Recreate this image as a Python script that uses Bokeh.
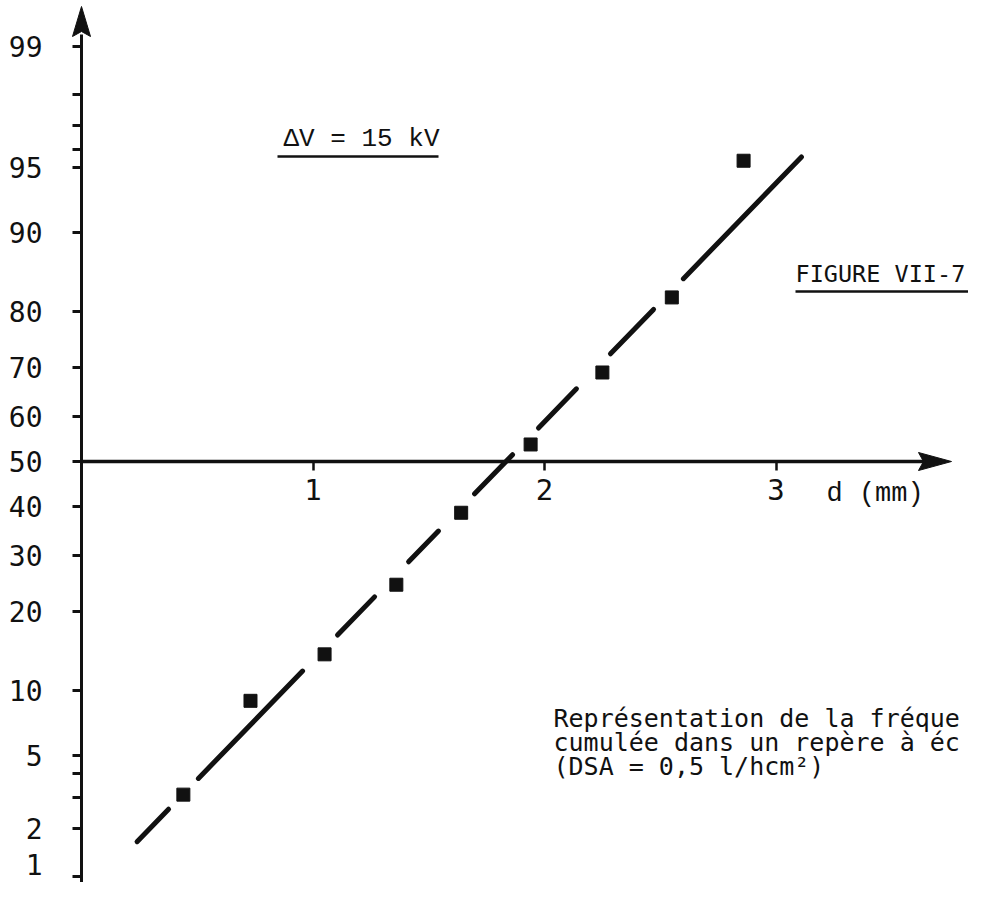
from statistics import NormalDist
from bokeh.plotting import figure
from bokeh.models import Range1d, LinearAxis, FixedTicker, CustomJSTickFormatter, Label
from bokeh.embed import file_html
from bokeh.resources import INLINE

# ---------------- data ----------------
d_mm = [0.44, 0.73, 1.05, 1.36, 1.64, 1.94, 2.25, 2.55, 2.86]          # d (mm)
freq_pct = [3.1, 9.0, 14.0, 24.5, 38.7, 53.8, 69.1, 82.1, 95.4]       # cumulated frequency (%)
fit_d = [0.24, 3.11]                                                  # fitted line ends (mm)
fit_pct = [1.66, 95.6]                                                # fitted line ends (%)
seg_start_d = [0.24, 0.505, 1.106, 1.413, 1.698, 1.974, 2.285, 2.600] # visible pieces of the line
seg_end_d = [0.376, 0.955, 1.266, 1.542, 1.862, 2.138, 2.471, 3.11]
y_tick_pct = [1, 2, 5, 10, 20, 30, 40, 50, 60, 70, 80, 90, 95, 99]
y_tick_labels = [str(v) for v in y_tick_pct]
y_minor_pct = [3, 4, 96, 97, 98]
x_ticks = [1, 2, 3]
x_tick_labels = ["1", "2", "3"]

# ---------------- probability (gaussian) scale ----------------
_nd = NormalDist()
def probit(p):
    return _nd.inv_cdf(p / 100.0)

# ---------------- layout ----------------
W, H = 968, 882
PX_D, PX_Z = 231.5, 178.5     # pixels per mm, pixels per probit unit
X0, Y0 = 81, 461              # canvas pixel of d = 0, z = 0 (from top)
INK = "#111111"
YLAB_FONT, YLAB_SIZE, YLAB_STANDOFF, TICK = "DejaVu Sans Mono", "28px", 30, 9

def dx(sx):   # canvas x -> data x
    return (sx - X0) / PX_D

def zy(sy):   # canvas y -> data y
    return (Y0 - sy) / PX_Z

p = figure(width=W, height=H,
           x_range=Range1d(-X0 / PX_D, (W - X0) / PX_D),
           y_range=Range1d(-(H - Y0) / PX_Z, Y0 / PX_Z),
           x_axis_type=None, y_axis_type=None,
           toolbar_location=None, output_backend="svg",
           min_border=0, outline_line_color=None,
           background_fill_color="white", border_fill_color="white")

# x axis through 50 %
xaxis = LinearAxis(fixed_location=0, bounds=(0, dx(925)),
                   ticker=FixedTicker(ticks=x_ticks),
                   major_label_overrides={t: l for t, l in zip(x_ticks, x_tick_labels)},
                   axis_line_width=3.5, axis_line_color=INK,
                   major_tick_out=TICK, major_tick_in=0, major_tick_line_width=2.5,
                   major_tick_line_color=INK, minor_tick_out=0, minor_tick_in=0,
                   major_label_text_font="DejaVu Sans Mono",
                   major_label_text_font_size="29px",
                   major_label_text_color=INK, major_label_standoff=8)
p.add_layout(xaxis, "below")

# y axis at d = 0 on gaussian scale
# (the lowest tick sits at the page edge: its label is placed apart, just above the edge)
z_major = [probit(v) for v in y_tick_pct[1:]]
z_minor = [probit(v) for v in [y_tick_pct[0]] + y_minor_pct]
yaxis = LinearAxis(fixed_location=0, bounds=(p.y_range.start, zy(34)),
                   ticker=FixedTicker(ticks=z_major, minor_ticks=z_minor),
                   formatter=CustomJSTickFormatter(
                       args=dict(zs=z_major, labs=y_tick_labels[1:]),
                       code="const i = zs.findIndex(t => Math.abs(t - tick) < 1e-6); return i >= 0 ? labs[i] : '';"),
                   axis_line_width=3, axis_line_color=INK,
                   major_tick_out=TICK, major_tick_in=0, major_tick_line_width=3,
                   major_tick_line_color=INK,
                   minor_tick_out=TICK, minor_tick_in=0, minor_tick_line_width=3,
                   minor_tick_line_color=INK,
                   major_label_text_font=YLAB_FONT,
                   major_label_text_font_size=YLAB_SIZE,
                   major_label_text_color=INK, major_label_standoff=YLAB_STANDOFF)
p.add_layout(yaxis, "left")
p.add_layout(Label(x=dx(X0 - TICK - YLAB_STANDOFF), y=zy(H - 8),
                   text=y_tick_labels[0], text_font=YLAB_FONT, text_font_size=YLAB_SIZE,
                   text_color=INK, text_align="right", text_baseline="bottom"))

# arrow heads
p.patch([dx(951), dx(918), dx(923), dx(918)], [0, zy(452), 0, zy(470)],
        fill_color=INK, line_color=INK, line_width=1)
p.patch([0, dx(72), 0, dx(90)], [zy(6), zy(36), zy(31), zy(36)],
        fill_color=INK, line_color=INK, line_width=1)

# fitted straight line (drawn in pieces, broken around the points)
z_a, z_b = probit(fit_pct[0]), probit(fit_pct[1])
slope = (z_b - z_a) / (fit_d[1] - fit_d[0])
def fit_z(d):
    return z_a + (d - fit_d[0]) * slope
p.segment(x0=seg_start_d, y0=[fit_z(d) for d in seg_start_d],
          x1=seg_end_d, y1=[fit_z(d) for d in seg_end_d],
          line_width=5, line_color=INK, line_cap="round")

# measured points
p.scatter(d_mm, [probit(v) for v in freq_pct], marker="square", size=13,
          fill_color=INK, line_color=INK)

# underlines
p.segment(x0=[dx(277), dx(795)], y0=[zy(156), zy(291)],
          x1=[dx(438), dx(990)], y1=[zy(156), zy(291)],
          line_width=2.5, line_color=INK)

def add_label(sx, sy, text, font, size):
    p.add_layout(Label(x=dx(sx), y=zy(sy), text=text, text_font=font,
                       text_font_size=size, text_color=INK,
                       text_baseline="alphabetic", text_align="left"))

add_label(283, 138, "\u0394V = 15 kV", "Liberation Mono", "26px")
add_label(795, 273, "FIGURE VII-7", "DejaVu Sans Mono", "23.5px")
add_label(826, 493, "d (mm)", "Liberation Mono", "27px")
add_label(553, 718, "Représentation de la fréque", "DejaVu Sans Mono", "25px")
add_label(553, 742, "cumulée dans un repère à éc", "DejaVu Sans Mono", "25px")
add_label(553, 766, "(DSA = 0,5 l/hcm\u00b2)", "DejaVu Sans Mono", "25px")

open("out.html", "w").write(file_html(p, INLINE))
